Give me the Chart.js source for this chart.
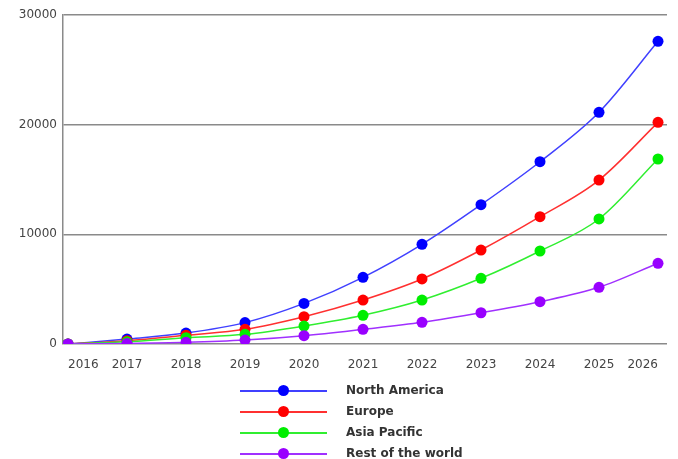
<!DOCTYPE html>
<html><head><meta charset="utf-8">
<script src="https://cdn.jsdelivr.net/npm/chart.js@4"></script>
<style>
html,body{margin:0;padding:0;background:#fff;}
#wrap{position:relative;width:678px;height:459px;overflow:hidden;}
canvas{position:absolute;left:0;top:0;}
#legend{position:absolute;left:240px;top:380px;font-family:"DejaVu Sans",sans-serif;font-weight:bold;font-size:12px;color:#333;}
.row{position:relative;height:21px;width:320px;}
.ln{position:absolute;left:0;top:10px;width:87px;height:1.5px;}
.dot{position:absolute;left:38px;top:5px;width:11px;height:11px;border-radius:50%;}
.tx{position:absolute;left:106px;top:3px;white-space:nowrap;}
</style></head>
<body><div id="wrap"><canvas id="c" width="678" height="459"></canvas><div id="legend"></div></div>
<script>
const years = [2016, 2017, 2018, 2019, 2020, 2021, 2022, 2023, 2024, 2025, 2026];
const yTicks = [0, 10000, 20000, 30000];
const seriesNames = ['North America', 'Europe', 'Asia Pacific', 'Rest of the world'];
const northAmerica = [0, 450, 1000, 1950, 3700, 6080, 9090, 12700, 16620, 21130, 27600];
const europe       = [0, 300, 800, 1340, 2490, 4010, 5930, 8570, 11610, 14950, 20210];
const asiaPacific  = [0, 200, 570, 880, 1640, 2620, 4010, 5990, 8480, 11400, 16870];
const restOfWorld  = [0, 50, 150, 360, 760, 1340, 1980, 2850, 3860, 5170, 7360];

const seriesValues = [northAmerica, europe, asiaPacific, restOfWorld];
const seriesColors = ['#0000ff', '#ff0000', '#00ee00', '#9900ff'];
const lineColors = ['#4040ff', '#ff3030', '#30ee30', '#a030ff'];

const datasets = seriesNames.map((name, i) => ({
  label: name,
  data: years.map((y, j) => ({x: y, y: seriesValues[i][j]})),
  borderColor: lineColors[i],
  backgroundColor: seriesColors[i],
  pointBackgroundColor: seriesColors[i],
  pointBorderWidth: 0,
  pointRadius: 5.5,
  borderWidth: 1.5,
  cubicInterpolationMode: 'monotone',
  fill: false,
  order: 4 - i
}));

const tickFont = {family: '"DejaVu Sans", sans-serif', size: 12};

new Chart(document.getElementById('c'), {
  type: 'line',
  data: {datasets},
  options: {
    responsive: false,
    animation: false,
    layout: {padding: {left: 0, top: 15, right: 11, bottom: 0}},
    plugins: {legend: {display: false}, tooltip: {enabled: false}},
    scales: {
      x: {
        type: 'linear',
        min: 2016 - 5 / 59,
        max: 2026 + 9 / 59,
        afterBuildTicks: s => { s.ticks = years.map(v => ({value: v})); },
        afterFit: s => { s.height = 115; s.paddingLeft = 0; s.paddingRight = 0; },
        ticks: {callback: v => String(v), font: tickFont, color: '#444', padding: 14, maxRotation: 0, autoSkip: false, align: 'inner'},
        grid: {display: false, drawTicks: false},
        border: {display: false}
      },
      y: {
        min: 0,
        max: 30000,
        afterBuildTicks: s => { s.ticks = yTicks.map(v => ({value: v})); },
        afterFit: s => { s.width = 63; s.paddingTop = 0; s.paddingBottom = 0; },
        ticks: {callback: v => String(v), font: tickFont, color: '#444', padding: 6},
        grid: {color: '#8a8a8a', lineWidth: 1.5, drawTicks: false},
        border: {display: true, color: '#8a8a8a', width: 1.5}
      }
    }
  }
});

const legend = document.getElementById('legend');
seriesNames.forEach((name, i) => {
  const row = document.createElement('div');
  row.className = 'row';
  const ln = document.createElement('div'); ln.className = 'ln'; ln.style.background = lineColors[i];
  const dot = document.createElement('div'); dot.className = 'dot'; dot.style.background = seriesColors[i];
  const tx = document.createElement('div'); tx.className = 'tx'; tx.textContent = name;
  row.appendChild(ln); row.appendChild(dot); row.appendChild(tx);
  legend.appendChild(row);
});
</script>
</body></html>
